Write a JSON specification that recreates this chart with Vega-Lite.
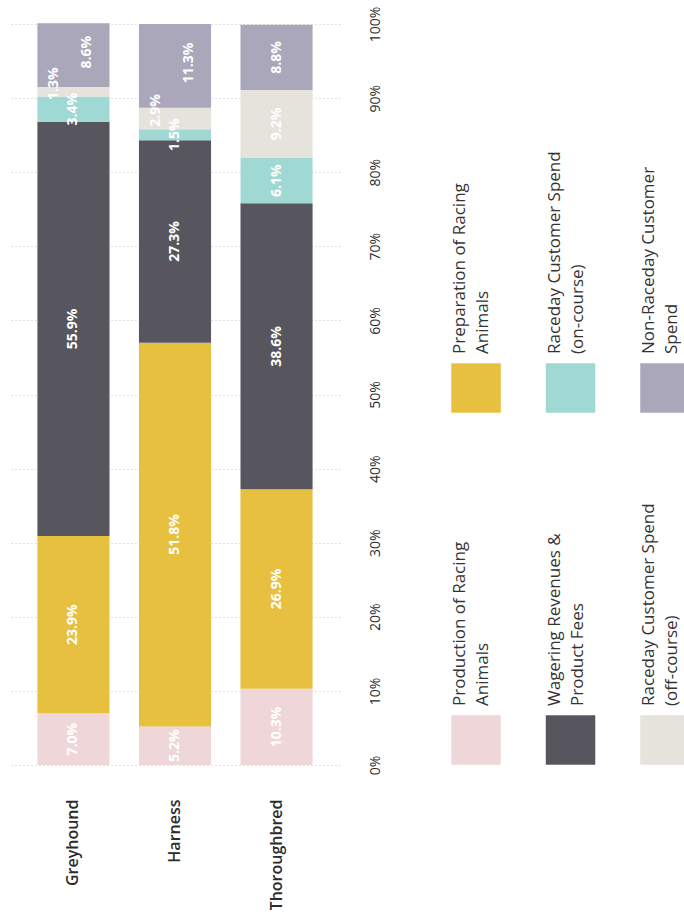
{
  "$schema": "https://vega.github.io/schema/vega-lite/v6.json",
  "padding": {"left": 10, "top": 6, "right": 0, "bottom": 0},
  "background": "white",
  "config": {"view": {"stroke": null}, "font": "Open Sans"},
  "datasets": {
    "shares": [
      {"bar": "Greyhound", "cat": "Production of Racing Animals", "k": 1, "value": 7.0},
      {"bar": "Greyhound", "cat": "Preparation of Racing Animals", "k": 2, "value": 23.9},
      {"bar": "Greyhound", "cat": "Wagering Revenues & Product Fees", "k": 3, "value": 55.9},
      {"bar": "Greyhound", "cat": "Raceday Customer Spend (on-course)", "k": 4, "value": 3.4},
      {"bar": "Greyhound", "cat": "Raceday Customer Spend (off-course)", "k": 5, "value": 1.3},
      {"bar": "Greyhound", "cat": "Non-Raceday Customer Spend", "k": 6, "value": 8.6},
      {"bar": "Harness", "cat": "Production of Racing Animals", "k": 1, "value": 5.2},
      {"bar": "Harness", "cat": "Preparation of Racing Animals", "k": 2, "value": 51.8},
      {"bar": "Harness", "cat": "Wagering Revenues & Product Fees", "k": 3, "value": 27.3},
      {"bar": "Harness", "cat": "Raceday Customer Spend (on-course)", "k": 4, "value": 1.5},
      {"bar": "Harness", "cat": "Raceday Customer Spend (off-course)", "k": 5, "value": 2.9},
      {"bar": "Harness", "cat": "Non-Raceday Customer Spend", "k": 6, "value": 11.3},
      {"bar": "Thoroughbred", "cat": "Production of Racing Animals", "k": 1, "value": 10.3},
      {"bar": "Thoroughbred", "cat": "Preparation of Racing Animals", "k": 2, "value": 26.9},
      {"bar": "Thoroughbred", "cat": "Wagering Revenues & Product Fees", "k": 3, "value": 38.6},
      {"bar": "Thoroughbred", "cat": "Raceday Customer Spend (on-course)", "k": 4, "value": 6.1},
      {"bar": "Thoroughbred", "cat": "Raceday Customer Spend (off-course)", "k": 5, "value": 9.2},
      {"bar": "Thoroughbred", "cat": "Non-Raceday Customer Spend", "k": 6, "value": 8.8}
    ],
    "legend": [
      {"cat": "Production of Racing Animals", "label": "Production of Racing\nAnimals", "col": 1, "row": 1},
      {"cat": "Preparation of Racing Animals", "label": "Preparation of Racing\nAnimals", "col": 1, "row": 2},
      {"cat": "Wagering Revenues & Product Fees", "label": "Wagering Revenues &\nProduct Fees", "col": 2, "row": 1},
      {"cat": "Raceday Customer Spend (on-course)", "label": "Raceday Customer Spend\n(on-course)", "col": 2, "row": 2},
      {"cat": "Raceday Customer Spend (off-course)", "label": "Raceday Customer Spend\n(off-course)", "col": 3, "row": 1},
      {"cat": "Non-Raceday Customer Spend", "label": "Non-Raceday Customer\nSpend", "col": 3, "row": 2}
    ]
  },
  "bounds": "flush",
  "spacing": 80,
  "hconcat": [
    {
      "width": 330,
      "height": 741,
      "data": {"name": "shares"},
      "transform": [
        {"window": [{"op": "sum", "field": "value", "as": "cum"}], "groupby": ["bar"], "sort": [{"field": "k"}], "frame": [null, 0]},
        {"calculate": "datum.cum - datum.value / 2", "as": "mid"},
        {"calculate": "format(datum.value, '.1f') + '%'", "as": "lbl"}
      ],
      "encoding": {
        "x": {
          "field": "bar", "type": "nominal",
          "sort": ["Greyhound", "Harness", "Thoroughbred"],
          "scale": {"paddingInner": 0.29, "paddingOuter": 0.27},
          "axis": {"title": null, "domain": false, "ticks": false, "labelAngle": -90, "labelAlign": "right", "labelBaseline": "middle", "labelPadding": 34, "labelFont": "Open Sans", "labelFontSize": 16, "labelFontWeight": 600, "labelColor": "#2b2b2b"}
        }
      },
      "layer": [
        {
          "mark": {"type": "bar"},
          "encoding": {
            "y": {
              "field": "value", "type": "quantitative", "stack": "zero",
              "scale": {"domain": [0, 100], "nice": false},
              "axis": {"title": null, "orient": "right", "values": [0, 10, 20, 30, 40, 50, 60, 70, 80, 90, 100], "labelExpr": "datum.value + '%'", "domain": false, "ticks": false, "tickSize": 0, "labelPadding": 28, "labelAngle": -90, "labelAlign": "center", "labelBaseline": "top", "labelFont": "Open Sans", "labelFontSize": 14, "labelColor": "#2b2b2b", "grid": true, "gridColor": "#c4c4c4", "gridDash": [1, 3], "gridWidth": 1}
            },
            "color": {
              "field": "cat", "type": "nominal",
              "scale": {
                "domain": ["Production of Racing Animals", "Preparation of Racing Animals", "Wagering Revenues & Product Fees", "Raceday Customer Spend (on-course)", "Raceday Customer Spend (off-course)", "Non-Raceday Customer Spend"],
                "range": ["#efd6d8", "#e8c03f", "#57565e", "#a0d9d3", "#e6e3dd", "#a9a7b9"]
              },
              "legend": null
            },
            "order": {"field": "k", "type": "quantitative"}
          }
        },
        {
          "transform": [{"filter": "!((datum.cat === 'Raceday Customer Spend (off-course)' && datum.value < 3) || (datum.cat === 'Non-Raceday Customer Spend' && datum.bar !== 'Thoroughbred'))"}],
          "mark": {"type": "text", "angle": 270, "align": "center", "baseline": "middle", "font": "Open Sans", "fontSize": 14, "fontWeight": "bold", "color": "white"},
          "encoding": {
            "y": {"field": "mid", "type": "quantitative", "title": null},
            "text": {"field": "lbl", "type": "nominal"}
          }
        },
        {
          "transform": [{"filter": "datum.cat === 'Raceday Customer Spend (off-course)' && datum.value < 3"}],
          "mark": {"type": "text", "angle": 270, "align": "center", "baseline": "middle", "dx": 8, "dy": -19, "font": "Open Sans", "fontSize": 14, "fontWeight": "bold", "color": "white"},
          "encoding": {
            "y": {"field": "mid", "type": "quantitative", "title": null},
            "text": {"field": "lbl", "type": "nominal"}
          }
        },
        {
          "transform": [{"filter": "datum.cat === 'Non-Raceday Customer Spend' && datum.bar !== 'Thoroughbred'"}],
          "mark": {"type": "text", "angle": 270, "align": "center", "baseline": "middle", "dx": 3, "dy": 14, "font": "Open Sans", "fontSize": 14, "fontWeight": "bold", "color": "white"},
          "encoding": {
            "y": {"field": "mid", "type": "quantitative", "title": null},
            "text": {"field": "lbl", "type": "nominal"}
          }
        }
      ]
    },
    {
      "width": 264,
      "height": 741,
      "data": {"name": "legend"},
      "encoding": {
        "x": {"field": "col", "type": "quantitative", "scale": {"domain": [0.407, 3.201], "nice": false, "zero": false}, "axis": null},
        "y": {"field": "row", "type": "quantitative", "scale": {"domain": [0.929, 3.034], "nice": false, "zero": false}, "axis": null}
      },
      "layer": [
        {
          "mark": {"type": "point", "shape": "square", "size": 2450, "filled": true, "opacity": 1, "clip": true},
          "encoding": {
            "color": {
              "field": "cat", "type": "nominal",
              "scale": {
                "domain": ["Production of Racing Animals", "Preparation of Racing Animals", "Wagering Revenues & Product Fees", "Raceday Customer Spend (on-course)", "Raceday Customer Spend (off-course)", "Non-Raceday Customer Spend"],
                "range": ["#efd6d8", "#e8c03f", "#57565e", "#a0d9d3", "#e6e3dd", "#a9a7b9"]
              },
              "legend": null
            }
          }
        },
        {
          "mark": {"type": "text", "angle": 270, "align": "left", "baseline": "top", "dx": 34, "dy": -24, "lineBreak": "\n", "font": "Open Sans", "fontSize": 17, "lineHeight": 23, "color": "#333333", "clip": true},
          "encoding": {"text": {"field": "label", "type": "nominal"}}
        }
      ]
    }
  ]
}
